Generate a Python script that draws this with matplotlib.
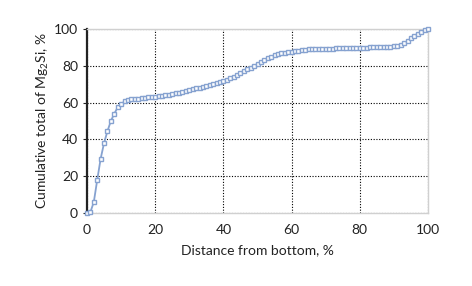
import matplotlib
matplotlib.use("Agg")
import matplotlib.pyplot as plt

distance = list(range(0, 101))
cumulative = [0, 0.5, 6, 18, 29.5, 38, 44.5, 50, 54, 57.4,
              59, 60.7, 61.3, 61.7, 62, 62.1, 62.3, 62.5, 62.8, 63,
              63.2, 63.5, 63.7, 64, 64.3, 64.6, 65, 65.3, 65.7, 66.2,
              66.8, 67.4, 67.8, 68.2, 68.6, 69, 69.5, 70, 70.5, 71,
              71.6, 72.3, 73.1, 74, 75, 76, 77, 78, 79, 80,
              81, 82, 83, 84, 85, 85.8, 86.3, 86.7, 87, 87.3,
              87.6, 87.9, 88.2, 88.5, 88.8, 89, 89.1, 89.2, 89.2, 89.3,
              89.3, 89.4, 89.4, 89.5, 89.5, 89.6, 89.6, 89.7, 89.7, 89.8,
              89.8, 89.9, 89.9, 90, 90, 90.1, 90.1, 90.2, 90.3, 90.4,
              90.6, 91, 91.5, 92.3, 93.5, 95, 96.3, 97.5, 98.5, 99.3, 100]
x_ticks = [0, 20, 40, 60, 80, 100]
y_ticks = [0, 20, 40, 60, 80, 100]

plt.rcParams['font.family'] = ['Lato', 'DejaVu Sans']
plt.rcParams['mathtext.fontset'] = 'custom'
plt.rcParams['mathtext.rm'] = 'Lato'
plt.rcParams['mathtext.it'] = 'Lato'
fig = plt.figure(figsize=(4.72, 2.86), dpi=100)
ax = fig.add_axes([87/472, (286-213)/286, (428-87)/472, (213-29)/286])

ax.plot(distance, cumulative, color='#86a2d0', lw=1.3, marker='s', ms=3.5,
        mfc='white', mec='#86a2d0', mew=1.0, clip_on=False, zorder=3)

ax.set_xlim(0, 100)
ax.set_ylim(0, 100)
ax.set_xticks(x_ticks)
ax.set_yticks(y_ticks)
ax.grid(True, color='black', linestyle=(0, (1, 1.5)), linewidth=0.8)
for s in ['top', 'right', 'bottom']:
    ax.spines[s].set_color('#d0d0d0')
    ax.spines[s].set_linewidth(1.0)
ax.spines['left'].set_color('#222222')
ax.spines['left'].set_linewidth(1.6)
ax.tick_params(axis='both', labelsize=10, colors='#222222', length=3)
ax.tick_params(axis='x', length=0, pad=8)
ax.set_xlabel('Distance from bottom, %', fontsize=10, color='#222222', labelpad=6)
ax.set_ylabel(r'Cumulative total of $\mathregular{Mg_2Si}$, %', fontsize=10,
              color='#222222', labelpad=2)

fig.savefig('out.png', dpi=100)
